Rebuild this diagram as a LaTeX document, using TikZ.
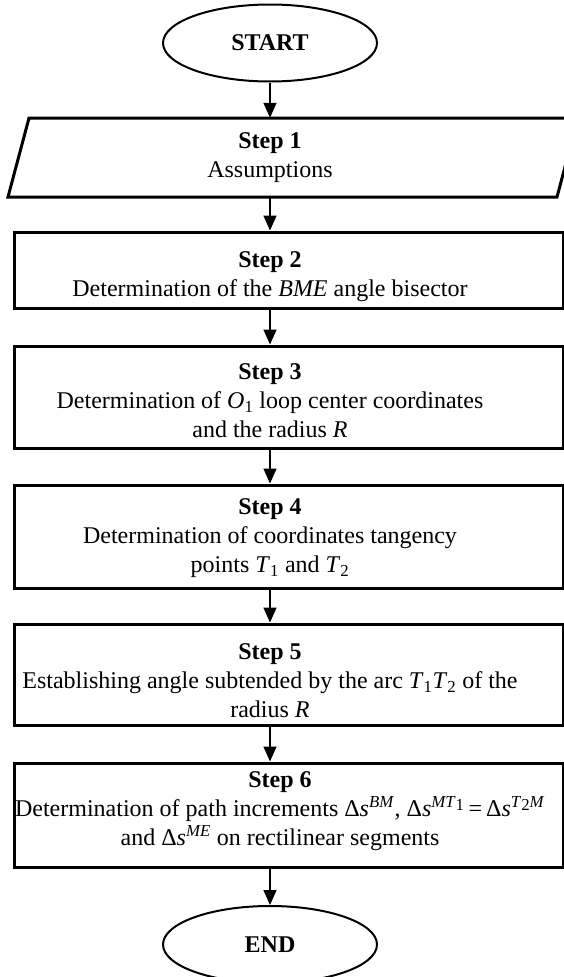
\documentclass[tikz,border=0pt]{standalone}
\usepackage{fontspec}
\setmainfont{Liberation Serif}
\usetikzlibrary{shapes.geometric,arrows.meta}
\begin{document}
\begin{tikzpicture}[x=1pt,y=-1pt,
  every node/.style={font=\fontsize{24}{29}\selectfont},
  term/.style={ellipse,draw,line width=2pt,minimum width=214pt,minimum height=77pt,inner sep=0pt,font=\fontsize{24}{29}\selectfont\bfseries},
  box/.style={rectangle,draw,line width=3pt,minimum width=549pt,inner sep=0pt},
  boxline/.style={line width=3pt,line join=miter},
  txt/.style={align=center,inner sep=0pt},
  arr/.style={line width=1.5pt,-{Triangle[width=13pt,length=15pt]}}]
\useasboundingbox (0,0) rectangle (564,977);
\clip (0,0) rectangle (564,977);

\node[term] (start) at (270,43) {START};

\draw[boxline] (29,118) -- (578,118) -- (557,197) -- (8,197) -- cycle;
\node[txt,minimum height=79pt] (s1) at (270,157.5) {\textbf{Step 1}\\Assumptions};

\node[box,minimum height=76pt] (b2) at (288.5,270) {};
\node[txt] (t2) at (270,277) {\textbf{Step 2}\\Determination of the \textit{BME} angle bisector};

\node[box,minimum height=102pt] (b3) at (288.5,397) {};
\node[txt] (t3) at (270,401) {\textbf{Step 3}\\Determination of \textit{O}\textsubscript{1} loop center coordinates\\and the radius \textit{R}};

\node[box,minimum height=103pt] (b4) at (288.5,536.5) {};
\node[txt] (t4) at (270,538) {\textbf{Step 4}\\Determination of coordinates tangency\\points \textit{T}\textsubscript{1} and \textit{T}\textsubscript{2}};

\node[box,minimum height=101pt] (b5) at (288.5,674.5) {};
\node[txt] (t5) at (270,681) {\textbf{Step 5}\\Establishing angle subtended by the arc \textit{T}\textsubscript{1}\textit{T}\textsubscript{2} of the\\radius \textit{R}};

\node[box,minimum height=104pt] (b6) at (288.5,815) {};
\node[txt] (t6) at (280,811) {\textbf{Step 6}\\Determination of path increments Δ\textit{s}\textsuperscript{\textit{BM}}, Δ\textit{s}\textsuperscript{\textit{MT}\raisebox{-0.35ex}{1}}\,=\,Δ\textit{s}\textsuperscript{\textit{T}\raisebox{-0.35ex}{2}\textit{M}}\\and Δ\textit{s}\textsuperscript{\textit{ME}} on rectilinear segments};

\node[term] (end) at (270,944.5) {END};

\draw[arr] (start.south) -- (s1.north);
\draw[arr] (s1.south) -- (b2.north -| s1.south);
\draw[arr] (b2.south -| s1.south) -- (b3.north -| s1.south);
\draw[arr] (b3.south -| s1.south) -- (b4.north -| s1.south);
\draw[arr] (b4.south -| s1.south) -- (b5.north -| s1.south);
\draw[arr] (b5.south -| s1.south) -- (b6.north -| s1.south);
\draw[arr] (b6.south -| s1.south) -- (end.north);
\end{tikzpicture}
\end{document}
